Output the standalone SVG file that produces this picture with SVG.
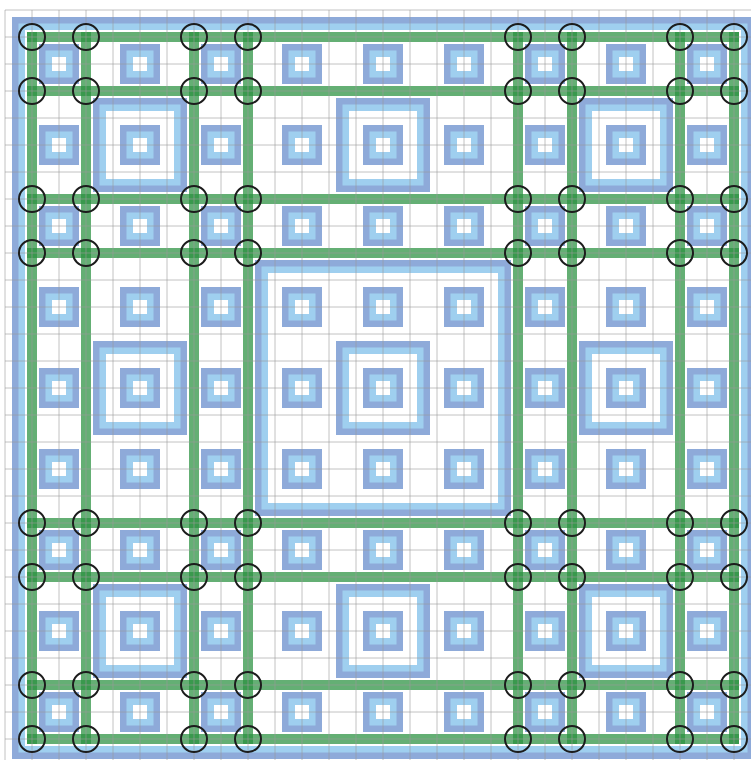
<svg xmlns="http://www.w3.org/2000/svg" xmlns:xlink="http://www.w3.org/1999/xlink" width="751" height="760" viewBox="0 0 751 760">
<style>
.d{fill:none;stroke:#8eaad9;stroke-width:13}
.l{fill:none;stroke:#9fcfef;stroke-width:6.5}
.g{stroke:#28903e;stroke-opacity:0.72;stroke-width:10;stroke-linecap:square}
.gr{stroke:#9a9a9a;stroke-opacity:0.6;stroke-width:1}
.c{fill:none;stroke:#1c1c1c;stroke-width:2}
</style>
<defs>
<g id="s"><rect x="-13.5" y="-13.5" width="27" height="27" class="d"/><rect x="-10.25" y="-10.25" width="20.5" height="20.5" class="l"/></g>
<g id="m"><rect x="-40.5" y="-40.5" width="81" height="81" class="d"/><rect x="-37.25" y="-37.25" width="74.5" height="74.5" class="l"/></g>
<g id="L"><rect x="-121.5" y="-121.5" width="243" height="243" class="d"/><rect x="-118.25" y="-118.25" width="236.5" height="236.5" class="l"/></g>
<circle id="o" r="13" class="c"/>
</defs>
<rect width="751" height="760" fill="#ffffff"/>
<g id="outer-square"><rect x="18.5" y="23.5" width="729" height="729" class="d"/><rect x="21.75" y="26.75" width="722.5" height="722.5" class="l"/></g>
<g id="large-square"><use xlink:href="#L" x="383" y="388"/></g>
<g id="medium-squares">
<use xlink:href="#m" x="140" y="145"/><use xlink:href="#m" x="383" y="145"/><use xlink:href="#m" x="626" y="145"/>
<use xlink:href="#m" x="140" y="388"/><use xlink:href="#m" x="383" y="388"/><use xlink:href="#m" x="626" y="388"/>
<use xlink:href="#m" x="140" y="631"/><use xlink:href="#m" x="383" y="631"/><use xlink:href="#m" x="626" y="631"/>
</g>
<g id="small-squares">
<use xlink:href="#s" x="59" y="64"/><use xlink:href="#s" x="140" y="64"/><use xlink:href="#s" x="221" y="64"/><use xlink:href="#s" x="302" y="64"/><use xlink:href="#s" x="383" y="64"/><use xlink:href="#s" x="464" y="64"/><use xlink:href="#s" x="545" y="64"/><use xlink:href="#s" x="626" y="64"/><use xlink:href="#s" x="707" y="64"/>
<use xlink:href="#s" x="59" y="145"/><use xlink:href="#s" x="140" y="145"/><use xlink:href="#s" x="221" y="145"/><use xlink:href="#s" x="302" y="145"/><use xlink:href="#s" x="383" y="145"/><use xlink:href="#s" x="464" y="145"/><use xlink:href="#s" x="545" y="145"/><use xlink:href="#s" x="626" y="145"/><use xlink:href="#s" x="707" y="145"/>
<use xlink:href="#s" x="59" y="226"/><use xlink:href="#s" x="140" y="226"/><use xlink:href="#s" x="221" y="226"/><use xlink:href="#s" x="302" y="226"/><use xlink:href="#s" x="383" y="226"/><use xlink:href="#s" x="464" y="226"/><use xlink:href="#s" x="545" y="226"/><use xlink:href="#s" x="626" y="226"/><use xlink:href="#s" x="707" y="226"/>
<use xlink:href="#s" x="59" y="307"/><use xlink:href="#s" x="140" y="307"/><use xlink:href="#s" x="221" y="307"/><use xlink:href="#s" x="302" y="307"/><use xlink:href="#s" x="383" y="307"/><use xlink:href="#s" x="464" y="307"/><use xlink:href="#s" x="545" y="307"/><use xlink:href="#s" x="626" y="307"/><use xlink:href="#s" x="707" y="307"/>
<use xlink:href="#s" x="59" y="388"/><use xlink:href="#s" x="140" y="388"/><use xlink:href="#s" x="221" y="388"/><use xlink:href="#s" x="302" y="388"/><use xlink:href="#s" x="383" y="388"/><use xlink:href="#s" x="464" y="388"/><use xlink:href="#s" x="545" y="388"/><use xlink:href="#s" x="626" y="388"/><use xlink:href="#s" x="707" y="388"/>
<use xlink:href="#s" x="59" y="469"/><use xlink:href="#s" x="140" y="469"/><use xlink:href="#s" x="221" y="469"/><use xlink:href="#s" x="302" y="469"/><use xlink:href="#s" x="383" y="469"/><use xlink:href="#s" x="464" y="469"/><use xlink:href="#s" x="545" y="469"/><use xlink:href="#s" x="626" y="469"/><use xlink:href="#s" x="707" y="469"/>
<use xlink:href="#s" x="59" y="550"/><use xlink:href="#s" x="140" y="550"/><use xlink:href="#s" x="221" y="550"/><use xlink:href="#s" x="302" y="550"/><use xlink:href="#s" x="383" y="550"/><use xlink:href="#s" x="464" y="550"/><use xlink:href="#s" x="545" y="550"/><use xlink:href="#s" x="626" y="550"/><use xlink:href="#s" x="707" y="550"/>
<use xlink:href="#s" x="59" y="631"/><use xlink:href="#s" x="140" y="631"/><use xlink:href="#s" x="221" y="631"/><use xlink:href="#s" x="302" y="631"/><use xlink:href="#s" x="383" y="631"/><use xlink:href="#s" x="464" y="631"/><use xlink:href="#s" x="545" y="631"/><use xlink:href="#s" x="626" y="631"/><use xlink:href="#s" x="707" y="631"/>
<use xlink:href="#s" x="59" y="712"/><use xlink:href="#s" x="140" y="712"/><use xlink:href="#s" x="221" y="712"/><use xlink:href="#s" x="302" y="712"/><use xlink:href="#s" x="383" y="712"/><use xlink:href="#s" x="464" y="712"/><use xlink:href="#s" x="545" y="712"/><use xlink:href="#s" x="626" y="712"/><use xlink:href="#s" x="707" y="712"/>
</g>
<g id="connectors">
<line class="g" x1="32" y1="37" x2="32" y2="739"/><line class="g" x1="86" y1="37" x2="86" y2="739"/><line class="g" x1="194" y1="37" x2="194" y2="739"/><line class="g" x1="248" y1="37" x2="248" y2="739"/>
<line class="g" x1="518" y1="37" x2="518" y2="739"/><line class="g" x1="572" y1="37" x2="572" y2="739"/><line class="g" x1="680" y1="37" x2="680" y2="739"/><line class="g" x1="734" y1="37" x2="734" y2="739"/>
<line class="g" x1="32" y1="37" x2="734" y2="37"/><line class="g" x1="32" y1="91" x2="734" y2="91"/><line class="g" x1="32" y1="199" x2="734" y2="199"/><line class="g" x1="32" y1="253" x2="734" y2="253"/>
<line class="g" x1="32" y1="523" x2="734" y2="523"/><line class="g" x1="32" y1="577" x2="734" y2="577"/><line class="g" x1="32" y1="685" x2="734" y2="685"/><line class="g" x1="32" y1="739" x2="734" y2="739"/>
</g>
<g id="grid" class="gr">
<path class="gr" d="M5 10V760M32 10V760M59 10V760M86 10V760M113 10V760M140 10V760M167 10V760M194 10V760M221 10V760M248 10V760M275 10V760M302 10V760M329 10V760M356 10V760M383 10V760M410 10V760M437 10V760M464 10V760M491 10V760M518 10V760M545 10V760M572 10V760M599 10V760M626 10V760M653 10V760M680 10V760M707 10V760M734 10V760"/>
<path class="gr" d="M5 10H751M5 37H751M5 64H751M5 91H751M5 118H751M5 145H751M5 172H751M5 199H751M5 226H751M5 253H751M5 280H751M5 307H751M5 334H751M5 361H751M5 388H751M5 415H751M5 442H751M5 469H751M5 496H751M5 523H751M5 550H751M5 577H751M5 604H751M5 631H751M5 658H751M5 685H751M5 712H751M5 739H751"/>
</g>
<g id="circles">
<use xlink:href="#o" x="32" y="37"/><use xlink:href="#o" x="86" y="37"/><use xlink:href="#o" x="194" y="37"/><use xlink:href="#o" x="248" y="37"/><use xlink:href="#o" x="518" y="37"/><use xlink:href="#o" x="572" y="37"/><use xlink:href="#o" x="680" y="37"/><use xlink:href="#o" x="734" y="37"/>
<use xlink:href="#o" x="32" y="91"/><use xlink:href="#o" x="86" y="91"/><use xlink:href="#o" x="194" y="91"/><use xlink:href="#o" x="248" y="91"/><use xlink:href="#o" x="518" y="91"/><use xlink:href="#o" x="572" y="91"/><use xlink:href="#o" x="680" y="91"/><use xlink:href="#o" x="734" y="91"/>
<use xlink:href="#o" x="32" y="199"/><use xlink:href="#o" x="86" y="199"/><use xlink:href="#o" x="194" y="199"/><use xlink:href="#o" x="248" y="199"/><use xlink:href="#o" x="518" y="199"/><use xlink:href="#o" x="572" y="199"/><use xlink:href="#o" x="680" y="199"/><use xlink:href="#o" x="734" y="199"/>
<use xlink:href="#o" x="32" y="253"/><use xlink:href="#o" x="86" y="253"/><use xlink:href="#o" x="194" y="253"/><use xlink:href="#o" x="248" y="253"/><use xlink:href="#o" x="518" y="253"/><use xlink:href="#o" x="572" y="253"/><use xlink:href="#o" x="680" y="253"/><use xlink:href="#o" x="734" y="253"/>
<use xlink:href="#o" x="32" y="523"/><use xlink:href="#o" x="86" y="523"/><use xlink:href="#o" x="194" y="523"/><use xlink:href="#o" x="248" y="523"/><use xlink:href="#o" x="518" y="523"/><use xlink:href="#o" x="572" y="523"/><use xlink:href="#o" x="680" y="523"/><use xlink:href="#o" x="734" y="523"/>
<use xlink:href="#o" x="32" y="577"/><use xlink:href="#o" x="86" y="577"/><use xlink:href="#o" x="194" y="577"/><use xlink:href="#o" x="248" y="577"/><use xlink:href="#o" x="518" y="577"/><use xlink:href="#o" x="572" y="577"/><use xlink:href="#o" x="680" y="577"/><use xlink:href="#o" x="734" y="577"/>
<use xlink:href="#o" x="32" y="685"/><use xlink:href="#o" x="86" y="685"/><use xlink:href="#o" x="194" y="685"/><use xlink:href="#o" x="248" y="685"/><use xlink:href="#o" x="518" y="685"/><use xlink:href="#o" x="572" y="685"/><use xlink:href="#o" x="680" y="685"/><use xlink:href="#o" x="734" y="685"/>
<use xlink:href="#o" x="32" y="739"/><use xlink:href="#o" x="86" y="739"/><use xlink:href="#o" x="194" y="739"/><use xlink:href="#o" x="248" y="739"/><use xlink:href="#o" x="518" y="739"/><use xlink:href="#o" x="572" y="739"/><use xlink:href="#o" x="680" y="739"/><use xlink:href="#o" x="734" y="739"/>
</g>
</svg>
